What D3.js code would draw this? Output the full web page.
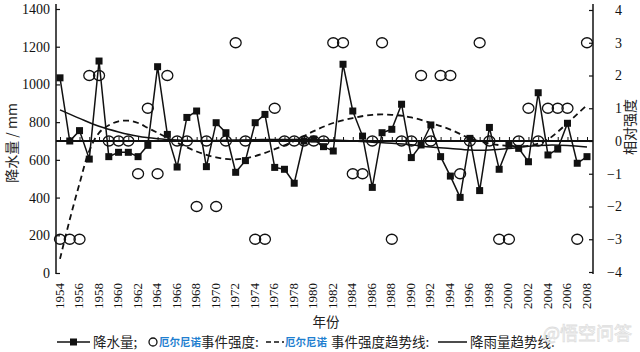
<!DOCTYPE html>
<html>
<head>
<meta charset="utf-8">
<script src="https://cdn.jsdelivr.net/npm/d3@7"></script>
<style>
  html, body { margin: 0; padding: 0; background: #fff; }
  svg { display: block; }
</style>
</head>
<body>
<svg id="chart" width="640" height="352"></svg>
<script>
const SERIF = '"Liberation Serif", "DejaVu Serif", serif';
const CJK = '"Noto Sans CJK SC", sans-serif';

// years 1954..2008
const years = [1954,1955,1956,1957,1958,1959,1960,1961,1962,1963,1964,1965,1966,1967,1968,1969,1970,
  1971,1972,1973,1974,1975,1976,1977,1978,1979,1980,1981,1982,1983,1984,1985,1986,1987,1988,1989,1990,
  1991,1992,1993,1994,1995,1996,1997,1998,1999,2000,2001,2002,2003,2004,2005,2006,2007,2008];

// precipitation (mm)
const rainfall = [1035,700,755,604,1124,617,640,640,617,677,1094,735,562,825,859,564,797,
  744,534,596,797,841,560,550,476,700,710,670,647,1107,859,726,454,744,762,895,612,
  679,785,617,514,401,714,437,772,550,682,661,590,956,626,657,794,582,617];

// El Nino event relative intensity
const intensity = [-3,-3,-3,2,2,0,0,0,-1,1,-1,2,0,0,-2,0,-2,
  0,3,0,-3,-3,1,0,0,0,0,0,3,3,-1,-1,0,3,-3,0,0,
  2,0,2,2,-1,0,3,0,-3,-3,0,1,0,1,1,1,-3,3];

// intensity trend line
const intTrendYears = [1954,1955,1956,1957,1958,1959,1960,1961,1962,1963,1964,1966,1968,1970,1972,1974,
  1976,1978,1980,1982,1984,1986,1988,1990,1992,1994,1996,1998,2000,2002,2003,2004,2005,2006,2007,2008];
const intTrend = [-3.6,-2.4,-1.3,-0.3,0.25,0.48,0.6,0.62,0.55,0.4,0.25,-0.05,-0.32,-0.5,-0.56,-0.46,
  -0.25,0.0,0.3,0.55,0.7,0.8,0.8,0.72,0.55,0.35,0.08,-0.08,-0.15,-0.15,-0.08,0.05,0.28,0.55,0.82,1.1];

// rainfall trend line
const rainTrendYears = [1954,1956,1958,1960,1962,1964,1966,1968,1970,1972,1974,1976,1978,1980,1982,
  1984,1986,1988,1990,1992,1994,1996,1998,2000,2002,2004,2006,2008];
const rainTrend = [865,820,778,748,725,712,705,702,703,705,707,708,708,707,705,
  700,694,688,680,668,660,652,652,660,672,678,676,668];

const leftTicks = [0,200,400,600,800,1000,1200,1400];
const rightTicks = [-4,-3,-2,-1,0,1,2,3,4];
const yearLabels = d3.range(1954, 2009, 2);

const svg = d3.select('#chart');

const x = d3.scaleLinear().domain([1954, 2008]).range([60, 587]);
const yL = d3.scaleLinear().domain([0, 1400]).range([273, 9]);
const yR = d3.scaleLinear().domain([-4, 4]).range([272, 10]);

const axL = 56, axR = 593;

// left axis
const gL = svg.append('g')
  .attr('transform', `translate(${axL},0)`)
  .call(d3.axisLeft(yL).tickValues(leftTicks).tickFormat(d3.format('d'))
    .tickSize(-4).tickSizeOuter(0).tickPadding(6));
gL.select('.domain').remove();
gL.selectAll('text').attr('font-family', SERIF).attr('font-size', 14).attr('fill', '#111');
gL.selectAll('line').attr('stroke', '#111').attr('stroke-width', 1.2);
svg.append('line').attr('x1', axL).attr('x2', axL).attr('y1', 4).attr('y2', 274)
  .attr('stroke', '#111').attr('stroke-width', 1.5);

// right axis
const gR = svg.append('g')
  .attr('transform', `translate(${axR},0)`)
  .call(d3.axisRight(yR).tickValues(rightTicks).tickSize(-4).tickSizeOuter(0).tickPadding(4));
gR.select('.domain').remove();
gR.selectAll('text').attr('font-family', SERIF).attr('font-size', 14).attr('fill', '#111')
  .attr('text-anchor', 'end').attr('x', 29);
gR.selectAll('line').attr('stroke', '#111').attr('stroke-width', 1.2);
svg.append('line').attr('x1', axR).attr('x2', axR).attr('y1', 4).attr('y2', 274)
  .attr('stroke', '#111').attr('stroke-width', 1.5);

// zero reference line with year ticks
const y0 = yR(0);
svg.append('line').attr('x1', axL).attr('x2', axR).attr('y1', y0).attr('y2', y0)
  .attr('stroke', '#111').attr('stroke-width', 2);
const gX = svg.append('g')
  .attr('transform', `translate(0,${y0})`)
  .call(d3.axisTop(x).tickValues(years).tickSize(4).tickFormat(''));
gX.select('.domain').remove();
gX.selectAll('line').attr('stroke', '#111').attr('stroke-width', 1);

// year labels
svg.append('g')
  .selectAll('text')
  .data(yearLabels)
  .enter()
  .append('text')
  .attr('transform', d => `translate(${x(d) - 1},283) rotate(-90)`)
  .attr('text-anchor', 'end')
  .attr('dy', '0.35em')
  .attr('font-family', SERIF)
  .attr('font-size', 13)
  .attr('fill', '#111')
  .text(d => d);

// axis titles
svg.append('text')
  .attr('transform', 'translate(12,143) rotate(-90)')
  .attr('text-anchor', 'middle').attr('dy', '0.35em')
  .attr('font-family', CJK).attr('font-size', 14).attr('fill', '#222')
  .text('降水量 / mm');
svg.append('text')
  .attr('transform', 'translate(630,127) rotate(-90)')
  .attr('text-anchor', 'middle').attr('dy', '0.35em')
  .attr('font-family', CJK).attr('font-size', 14).attr('fill', '#222')
  .text('相对强度');
svg.append('text')
  .attr('x', 326).attr('y', 327)
  .attr('text-anchor', 'middle')
  .attr('font-family', CJK).attr('font-size', 13.5).attr('fill', '#222')
  .text('年份');

// trend lines
const intLine = d3.line()
  .x((d, i) => x(intTrendYears[i]))
  .y(d => yR(d))
  .curve(d3.curveCatmullRom);
svg.append('path')
  .attr('d', intLine(intTrend))
  .attr('fill', 'none').attr('stroke', '#111').attr('stroke-width', 1.8)
  .attr('stroke-dasharray', '6,4');

const rainTrendLine = d3.line()
  .x((d, i) => x(rainTrendYears[i]))
  .y(d => yL(d))
  .curve(d3.curveCatmullRom);
svg.append('path')
  .attr('d', rainTrendLine(rainTrend))
  .attr('fill', 'none').attr('stroke', '#111').attr('stroke-width', 1.5);

// rainfall line + squares
const rainLine = d3.line()
  .x((d, i) => x(years[i]))
  .y(d => yL(d));
svg.append('path')
  .attr('d', rainLine(rainfall))
  .attr('fill', 'none').attr('stroke', '#111').attr('stroke-width', 1.5);

svg.append('g')
  .selectAll('rect')
  .data(rainfall)
  .enter()
  .append('rect')
  .attr('x', (d, i) => x(years[i]) - 3.5)
  .attr('y', d => yL(d) - 3.5)
  .attr('width', 7).attr('height', 7)
  .attr('fill', '#111');

// intensity circles
svg.append('g')
  .selectAll('ellipse')
  .data(intensity)
  .enter()
  .append('ellipse')
  .attr('cx', (d, i) => x(years[i]))
  .attr('cy', d => yR(d))
  .attr('rx', 5.5).attr('ry', 5)
  .attr('fill', 'none').attr('stroke', '#111').attr('stroke-width', 1.3);

// legend
const ly = 342;
const lg = svg.append('g');
lg.append('line').attr('x1', 57).attr('x2', 90).attr('y1', ly).attr('y2', ly)
  .attr('stroke', '#111').attr('stroke-width', 1.5);
lg.append('rect').attr('x', 70).attr('y', ly - 3.5).attr('width', 7).attr('height', 7).attr('fill', '#111');
lg.append('ellipse').attr('cx', 153).attr('cy', ly).attr('rx', 4).attr('ry', 4)
  .attr('fill', 'none').attr('stroke', '#111').attr('stroke-width', 1.3);
lg.append('line').attr('x1', 266).attr('x2', 284).attr('y1', ly).attr('y2', ly)
  .attr('stroke', '#111').attr('stroke-width', 1.5).attr('stroke-dasharray', '5,3');
lg.append('line').attr('x1', 438).attr('x2', 467).attr('y1', ly).attr('y2', ly)
  .attr('stroke', '#111').attr('stroke-width', 1.5);

const legendTexts = [
  { x: 93, t: '降水量;', blue: false },
  { x: 159, t: '厄尔尼诺', blue: true },
  { x: 201, t: '事件强度:', blue: false },
  { x: 285, t: '厄尔尼诺', blue: true },
  { x: 331, t: '事件强度趋势线:', blue: false },
  { x: 470, t: '降雨量趋势线.', blue: false }
];
lg.selectAll('text.leg')
  .data(legendTexts)
  .enter()
  .append('text')
  .attr('class', 'leg')
  .attr('x', d => d.x)
  .attr('y', ly)
  .attr('dy', '0.35em')
  .attr('font-family', CJK)
  .attr('font-size', d => d.blue ? 10.5 : 13.5)
  .attr('font-weight', d => d.blue ? 'bold' : 'normal')
  .attr('fill', d => d.blue ? '#1f7fd0' : '#222')
  .text(d => d.t);

// watermark
svg.append('text')
  .attr('x', 632).attr('y', 340)
  .attr('text-anchor', 'end')
  .attr('font-family', CJK)
  .attr('font-size', 18)
  .attr('fill', '#fff').attr('stroke', '#dedede').attr('stroke-width', 0.8)
  .text('@悟空问答');
</script>
</body>
</html>
